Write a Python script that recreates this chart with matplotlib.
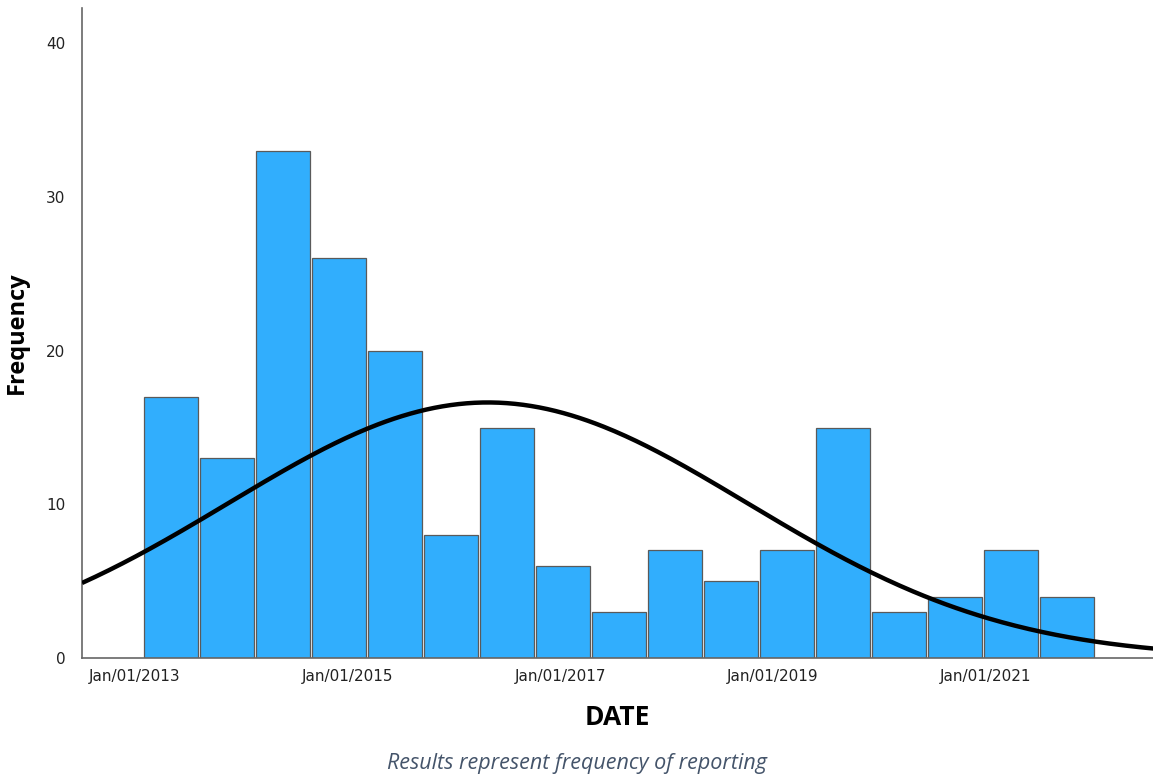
import numpy as np
import matplotlib
matplotlib.use("Agg")
import matplotlib.pyplot as plt

# Data (x in fractional years)
counts = [17, 13, 33, 26, 20, 8, 15, 6, 3, 7, 5, 7, 15, 3, 4, 7, 4]
bin_start = 2013.085
bin_width = 0.527
tick_years = [2013, 2015, 2017, 2019, 2021]
tick_labels = ["Jan/01/2013", "Jan/01/2015", "Jan/01/2017", "Jan/01/2019", "Jan/01/2021"]
curve_mean = 2016.32
curve_sd = 2.44

fig = plt.figure(figsize=(11.53, 7.78), dpi=100)
ax = fig.add_axes([82/1153, 1-658/778, 1-82/1153, (658-8)/778])

lefts = bin_start + bin_width*np.arange(len(counts))
ax.bar(lefts, counts, width=bin_width*0.965, align="edge", color="#31AEFD",
       edgecolor="#5a5a5a", linewidth=0.9, zorder=2)

n = sum(counts)
xs = np.linspace(2012.5, 2022.6, 400)
ys = n*bin_width/(curve_sd*np.sqrt(2*np.pi))*np.exp(-0.5*((xs-curve_mean)/curve_sd)**2)
ax.plot(xs, ys, color="black", linewidth=3.2, zorder=3, solid_capstyle="butt")

ax.set_xlim(2012.5, 2022.58)
ax.set_ylim(0, 42.3)
ax.set_xticks(tick_years)
ax.set_xticklabels(tick_labels)
ax.set_yticks([0, 10, 20, 30, 40])
ax.tick_params(length=0, labelsize=11, colors="#222222", pad=8)
for lab in ax.get_xticklabels() + ax.get_yticklabels():
    lab.set_fontfamily("DejaVu Sans")
ax.tick_params(axis="y", pad=12)
for s in ["top", "right"]:
    ax.spines[s].set_visible(False)
for s in ["left", "bottom"]:
    ax.spines[s].set_color("#666666")
    ax.spines[s].set_linewidth(1.2)

ax.set_ylabel("Frequency", fontsize=17, fontweight="bold", family="Open Sans", labelpad=12)
ax.set_xlabel("DATE", fontsize=19, fontweight="bold", family="Open Sans", labelpad=14)

fig.text(0.5, 1-764/778, "Results represent frequency of reporting", ha="center", va="center",
         fontsize=15.5, style="italic", family="Open Sans", color="#44546A")

fig.savefig("out.png", dpi=100)
